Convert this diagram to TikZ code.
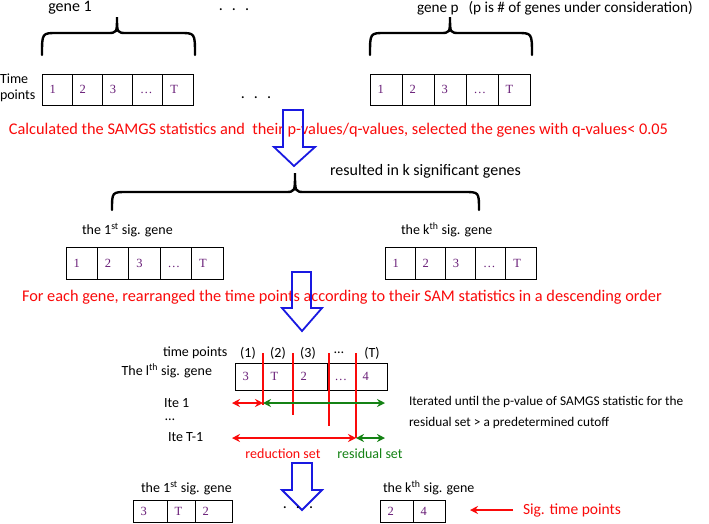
\documentclass[tikz,border=0pt]{standalone}
\usepackage{fontspec}
\setmainfont{Carlito}
\newfontfamily\numfont{Liberation Serif}
\usetikzlibrary{arrows.meta}
\definecolor{numpurple}{RGB}{105,30,120}
\definecolor{redc}{RGB}{250,10,10}
\definecolor{greenc}{RGB}{20,130,20}
\definecolor{bluec}{RGB}{25,25,225}
\begin{document}
\begin{tikzpicture}[x=1pt,y=-1pt,
  every node/.style={inner sep=0pt, outer sep=0pt},
  lbl/.style={font=\fontsize{14}{16}\selectfont, anchor=west},
  big/.style={font=\fontsize{16}{18}\selectfont},
  redtxt/.style={text=redc, font=\fontsize{16.3}{18}\selectfont, anchor=west},
  bracepath/.style={line width=2.4pt, line cap=round},
  hollow/.style={draw=bluec, line width=1.8pt, line join=miter},
  cut/.style={draw=redc, line width=2pt},
  dbl/.style={line width=2pt, {Stealth[length=8pt,width=8pt]}-{Stealth[length=8pt,width=8pt]}},
  cell/.style 2 args={draw, line width=0.9pt, anchor=north west, outer sep=0pt,
    inner ysep=0pt, inner xsep=7.5pt, minimum height=#2, text width=#1, align=left,
    text height=8.5pt, text depth=0pt, font=\numfont\fontsize{12.5}{12.5}\selectfont, text=numpurple}]
\useasboundingbox (0,0) rectangle (709,523);
\fill[white] (0,0) rectangle (709,523);

% ---------- top: genes ----------
\node[big] (gene1) at (70,8) {gene 1};
\node[big, anchor=west, font=\fontsize{15.2}{18}\selectfont] (genep) at (417,8) {gene p\hspace{10pt}(p is \# of genes under consideration)};
\node[big] (dotsA) at (234,10) {.\hspace{9pt}.\hspace{9pt}.};
\node[lbl, align=left, font=\fontsize{14}{16}\selectfont] (tp) at (0,88) {Time\\points};

\draw[bracepath] (42,55) .. controls (42,33) .. (57,33) -- (107,33) .. controls (117,33) .. (117,17)
  .. controls (117,33) .. (127,33) -- (180,33) .. controls (195,33) .. (195,55);
\draw[bracepath] (370,55) .. controls (370,33) .. (385,33) -- (440,33) .. controls (450,33) .. (450,17)
  .. controls (450,33) .. (460,33) -- (517,33) .. controls (532,33) .. (532,55);

\node[cell={15.2pt}{31pt}] (a1) at (42,74) {1};
\node[cell={15.2pt}{31pt}] (a2) at (a1.north east) {2};
\node[cell={15.2pt}{31pt}] (a3) at (a2.north east) {3};
\node[cell={15.2pt}{31pt}] (a4) at (a3.north east) {\ldots};
\node[cell={15.2pt}{31pt}] (a5) at (a4.north east) {T};

\node[cell={17pt}{31pt}] (b1) at (370,74) {1};
\node[cell={17pt}{31pt}] (b2) at (b1.north east) {2};
\node[cell={17pt}{31pt}] (b3) at (b2.north east) {3};
\node[cell={17pt}{31pt}] (b4) at (b3.north east) {\ldots};
\node[cell={17pt}{31pt}] (b5) at (b4.north east) {T};

\node[big] (dotsB) at (256,98) {.\hspace{9pt}.\hspace{9pt}.};

% ---------- step 1 ----------
\node[redtxt] (step1) at (9,130) {Calculated the SAMGS statistics and\ \ their p-values/q-values, selected the genes with q-values< 0.05};
\draw[hollow] (283,110) -- (303,110) -- (303,147) -- (315,147) -- (294,166) -- (274,147) -- (283,147) -- cycle;

\node[big, anchor=west] (res) at (330,171) {resulted in k significant genes};
\draw[bracepath] (112,210) .. controls (112,192) .. (127,192) -- (285,192) .. controls (295,192) .. (295,173)
  .. controls (295,192) .. (305,192) -- (464,192) .. controls (479,192) .. (479,210);

\node[lbl] (sig1) at (82,230) {the 1\textsuperscript{st} sig. gene};
\node[lbl] (sigk) at (401,230) {the k\textsuperscript{th} sig. gene};

\node[cell={16.4pt}{32pt}] (c1) at (66,247) {1};
\node[cell={16.4pt}{32pt}] (c2) at (c1.north east) {2};
\node[cell={16.4pt}{32pt}] (c3) at (c2.north east) {3};
\node[cell={16.4pt}{32pt}] (c4) at (c3.north east) {\ldots};
\node[cell={16.4pt}{32pt}] (c5) at (c4.north east) {T};

\node[cell={15.2pt}{32pt}] (d1) at (385,247) {1};
\node[cell={15.2pt}{32pt}] (d2) at (d1.north east) {2};
\node[cell={15.2pt}{32pt}] (d3) at (d2.north east) {3};
\node[cell={15.2pt}{32pt}] (d4) at (d3.north east) {\ldots};
\node[cell={15.2pt}{32pt}] (d5) at (d4.north east) {T};

% ---------- step 2 ----------
\node[redtxt] (step2) at (22,297) {For each gene, rearranged the time points according to their SAM statistics in a descending order};
\draw[hollow] (292,272) -- (311,272) -- (311,308) -- (322,308) -- (302,331) -- (282,308) -- (292,308) -- cycle;

\node[lbl] (tpts) at (163,353) {time points};
\node[lbl, anchor=center] (p1) at (248,353) {(1)};
\node[lbl, anchor=center] (p2) at (278,353) {(2)};
\node[lbl, anchor=center] (p3) at (308,353) {(3)};
\node[lbl, anchor=center] (p4) at (339,353) {\ldots};
\node[lbl, anchor=center] (pT) at (372,353) {(T)};
\node[lbl, anchor=east] (lth) at (212,371) {The l\textsuperscript{th} sig. gene};

\node[cell={13pt}{27pt}] (e1) at (235,363) {3};
\node[cell={15pt}{27pt}] (e2) at (e1.north east) {T};
\node[cell={19pt}{27pt}] (e3) at (e2.north east) {2};
\node[cell={13pt}{27pt}] (e4) at (e3.north east) {\ldots};
\node[cell={17pt}{27pt}] (e5) at (e4.north east) {4};

\coordinate (l1t) at (263,353); \coordinate (l1b) at (263,405);
\coordinate (l2t) at (293,353); \coordinate (l2b) at (293,415);
\coordinate (l3t) at (329,353); \coordinate (l3b) at (329,426);
\coordinate (l4t) at (356,353); \coordinate (l4b) at (356,438);
\draw[cut] (l1t) -- (l1b);
\draw[cut] (l2t) -- (l2b);
\draw[cut] (l3t) -- (l3b);
\draw[cut] (l4t) -- (l4b);

\node[lbl] (ite1) at (164,403) {Ite 1};
\node[lbl] (itedots) at (165,420) {\ldots};
\node[lbl] (iteT) at (168,437) {Ite T-1};

\coordinate (i1a) at (232,403); \coordinate (i1b) at (263,403); \coordinate (i1c) at (385,403);
\coordinate (i2a) at (232,438); \coordinate (i2b) at (356,438); \coordinate (i2c) at (385,438);
\draw[dbl, redc] (i1a) -- (i1b);
\draw[dbl, greenc] (i1b) -- (i1c);
\draw[dbl, redc] (i2a) -- (i2b);
\draw[dbl, greenc] (i2b) -- (i2c);

\node[lbl, align=left, font=\fontsize{13.3}{21}\selectfont, anchor=north west] (iter) at (409,396)
  {Iterated until the p-value of SAMGS statistic for the\\residual set > a predetermined cutoff};

\node[lbl, anchor=center, text=redc] (redset) at (283,454) {reduction set};
\node[lbl, anchor=center, text=greenc] (resset) at (370,454) {residual set};

% ---------- bottom ----------
\draw[hollow] (292,463) -- (312,463) -- (312,490) -- (322,490) -- (302,510) -- (282,490) -- (292,490) -- cycle;
\node[big] (dotsC) at (298,508) {.\hspace{9pt}.\hspace{9pt}.};

\node[lbl] (bsig1) at (141,488) {the 1\textsuperscript{st} sig. gene};
\node[lbl] (bsigk) at (383,488) {the k\textsuperscript{th} sig. gene};

\node[cell={19pt}{22pt}] (f1) at (133,500) {3};
\node[cell={13pt}{22pt}] (f2) at (f1.north east) {T};
\node[cell={22pt}{22pt}] (f3) at (f2.north east) {2};

\node[cell={18pt}{22pt}] (g1) at (380,500) {2};
\node[cell={17pt}{22pt}] (g2) at (g1.north east) {4};

\node[lbl, text=redc, font=\fontsize{15.5}{18}\selectfont] (sigtp) at (523,510) {Sig. time points};
\coordinate (sigtip) at (470,510);
\draw[redc, line width=2pt, -{Stealth[length=8pt,width=8pt]}] (sigtp.west) ++(-10,0) coordinate (sigtail) -- (sigtip);
\end{tikzpicture}
\end{document}
